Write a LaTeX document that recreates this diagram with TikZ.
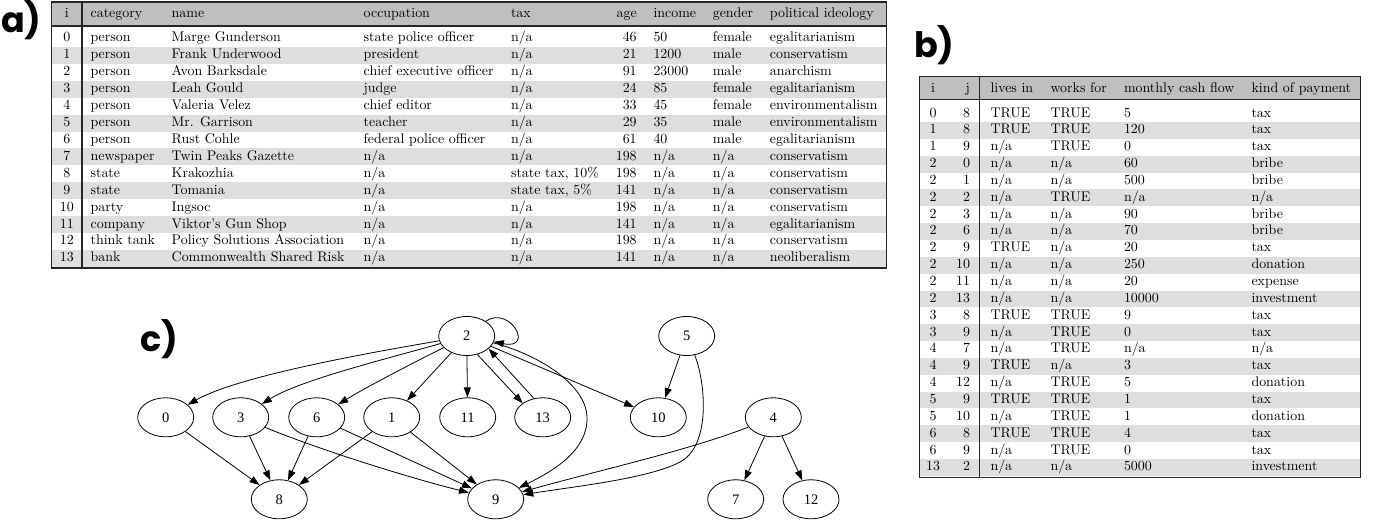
\documentclass[tikz,border=0pt]{standalone}
\usepackage{fontspec}
\usepackage{graphicx}
\usetikzlibrary{shapes.geometric,arrows.meta}
\newfontfamily\gfont{Liberation Serif}
\newfontfamily\labfont{Poppins}
\newcommand\na{n/a}
\newcommand\tc[1]{\scalebox{1.395}{\fontsize{10}{12}\selectfont\ignorespaces #1\unskip}}
\tikzset{
  cellL/.style={anchor=base west, inner sep=0pt, outer sep=0pt},
  cellC/.style={anchor=base, inner sep=0pt, outer sep=0pt},
  cellR/.style={anchor=base east, inner sep=0pt, outer sep=0pt},
  hdrfill/.style={fill=black!25},
  stripe/.style={fill=black!13},
  frame/.style={draw=black!85, line width=1.1pt},
  hrule/.style={draw=black!85, line width=1.6pt},
  vrule/.style={draw=black!85, line width=1.8pt},
  gnode/.style={ellipse, draw, line width=0.8pt, minimum width=56pt, minimum height=39pt, inner sep=0pt,
    font=\gfont\fontsize{14.5}{16}\selectfont},
  edge/.style={draw, line width=0.8pt, -{Triangle[length=10pt,width=7pt]}},
  lab/.style={anchor=base west, inner sep=0pt, font=\labfont\bfseries\fontsize{35}{35}\selectfont}
}
\begin{document}
\begin{tikzpicture}[x=1pt,y=-1pt]
\fill[white] (0,0) rectangle (1383,525);
\useasboundingbox (0,0) rectangle (1383,525);

% ---------- labels
\node[lab] (la) at (1,32) {a)};
\node[lab] (lb) at (914,57) {b)};
\node[lab] (lc) at (140,351.5) {c)};

% ---------- table a
\fill[hdrfill] (51.5,2) rectangle (886.5,25.5);
\foreach \k in {1,3,...,13}{
  \fill[stripe] (51.5,{38.4+16.93*\k-8.47}) rectangle (886.5,{38.4+16.93*\k+8.47});
}
\draw[hrule] (51.5,26) -- (886.5,26);
\draw[vrule] (82.2,2) -- (82.2,268);
\draw[frame] (51.5,2) rectangle (886.5,268);

\node[cellC] (ah1) at (66.85,17.5) {\tc{i}};
\node[cellL] (ah2) at (90.6,17.5) {\tc{category}};
\node[cellL] (ah3) at (171.7,17.5) {\tc{name}};
\node[cellL] (ah4) at (363.7,17.5) {\tc{occupation}};
\node[cellL] (ah5) at (511,17.5) {\tc{tax}};
\node[cellR] (ah6) at (636.7,17.5) {\tc{age}};
\node[cellL] (ah7) at (653.5,17.5) {\tc{income}};
\node[cellL] (ah8) at (712.8,17.5) {\tc{gender}};
\node[cellL] (ah9) at (769.9,17.5) {\tc{political ideology}};

\foreach \rI/\rC/\rN/\rO/\rT/\rA/\rM/\rG/\rP [count=\k from 0] in {
 0/person/Marge Gunderson/state police officer/\na/46/50/female/egalitarianism,
 1/person/Frank Underwood/president/\na/21/1200/male/conservatism,
 2/person/Avon Barksdale/chief executive officer/\na/91/23000/male/anarchism,
 3/person/Leah Gould/judge/\na/24/85/female/egalitarianism,
 4/person/Valeria Velez/chief editor/\na/33/45/female/environmentalism,
 5/person/Mr. Garrison/teacher/\na/29/35/male/environmentalism,
 6/person/Rust Cohle/federal police officer/\na/61/40/male/egalitarianism,
 7/newspaper/Twin Peaks Gazette/\na/\na/198/\na/\na/conservatism,
 8/state/Krakozhia/\na/{state tax, 10\%}/198/\na/\na/conservatism,
 9/state/Tomania/\na/{state tax, 5\%}/141/\na/\na/conservatism,
 10/party/Ingsoc/\na/\na/198/\na/\na/conservatism,
 11/company/Viktor’s Gun Shop/\na/\na/141/\na/\na/egalitarianism,
 12/think tank/Policy Solutions Association/\na/\na/198/\na/\na/conservatism,
 13/bank/Commonwealth Shared Risk/\na/\na/141/\na/\na/neoliberalism}{
  \pgfmathsetmacro\yb{41.8+16.93*\k}
  \node[cellC] (a\k c1) at (66.85,\yb) {\tc{\rI}};
  \node[cellL] (a\k c2) at (90.6,\yb) {\tc{\rC}};
  \node[cellL] (a\k c3) at (171.7,\yb) {\tc{\rN}};
  \node[cellL] (a\k c4) at (363.7,\yb) {\tc{\rO}};
  \node[cellL] (a\k c5) at (511,\yb) {\tc{\rT}};
  \node[cellR] (a\k c6) at (636.7,\yb) {\tc{\rA}};
  \node[cellL] (a\k c7) at (653.5,\yb) {\tc{\rM}};
  \node[cellL] (a\k c8) at (712.8,\yb) {\tc{\rG}};
  \node[cellL] (a\k c9) at (769.9,\yb) {\tc{\rP}};
}

% ---------- table b
\fill[hdrfill] (919.5,76.7) rectangle (1360.5,99);
\foreach \k in {1,3,...,21}{
  \fill[stripe] (919.5,{113.6+16.85*\k-8.43}) rectangle (1360.5,{113.6+16.85*\k+8.43});
}
\draw[hrule] (919.5,99.5) -- (1360.5,99.5);
\draw[vrule] (979.5,76.7) -- (979.5,477.5);
\draw[frame] (919.5,76.7) rectangle (1360.5,477.5);

\node[cellC] (bh1) at (933,92) {\tc{i}};
\node[cellR] (bh2) at (970,92) {\tc{j}};
\node[cellL] (bh3) at (990.5,92) {\tc{lives in}};
\node[cellL] (bh4) at (1050.5,92) {\tc{works for}};
\node[cellL] (bh5) at (1124,92) {\tc{monthly cash flow}};
\node[cellL] (bh6) at (1251.5,92) {\tc{kind of payment}};

\foreach \rI/\rJ/\rL/\rW/\rF/\rK [count=\k from 0] in {
 0/8/TRUE/TRUE/5/tax,
 1/8/TRUE/TRUE/120/tax,
 1/9/\na/TRUE/0/tax,
 2/0/\na/\na/60/bribe,
 2/1/\na/\na/500/bribe,
 2/2/\na/TRUE/\na/\na,
 2/3/\na/\na/90/bribe,
 2/6/\na/\na/70/bribe,
 2/9/TRUE/\na/20/tax,
 2/10/\na/\na/250/donation,
 2/11/\na/\na/20/expense,
 2/13/\na/\na/10000/investment,
 3/8/TRUE/TRUE/9/tax,
 3/9/\na/TRUE/0/tax,
 4/7/\na/TRUE/\na/\na,
 4/9/TRUE/\na/3/tax,
 4/12/\na/TRUE/5/donation,
 5/9/TRUE/TRUE/1/tax,
 5/10/\na/TRUE/1/donation,
 6/8/TRUE/TRUE/4/tax,
 6/9/\na/TRUE/0/tax,
 13/2/\na/\na/5000/investment}{
  \pgfmathsetmacro\yb{117+16.85*\k}
  \node[cellC] (b\k c1) at (933,\yb) {\tc{\rI}};
  \node[cellR] (b\k c2) at (970,\yb) {\tc{\rJ}};
  \node[cellL] (b\k c3) at (990.5,\yb) {\tc{\rL}};
  \node[cellL] (b\k c4) at (1050.5,\yb) {\tc{\rW}};
  \node[cellL] (b\k c5) at (1124,\yb) {\tc{\rF}};
  \node[cellL] (b\k c6) at (1251.5,\yb) {\tc{\rK}};
}

% ---------- graph c
\node[gnode] (n2) at (466.7,336) {2};
\node[gnode] (n5) at (686.7,336) {5};
\node[gnode] (n0) at (165.7,417.3) {0};
\node[gnode] (n3) at (240.7,417.3) {3};
\node[gnode] (n6) at (316.7,417.3) {6};
\node[gnode] (n1) at (391.7,417.3) {1};
\node[gnode] (n11) at (467.7,417.3) {11};
\node[gnode] (n13) at (542.7,417.3) {13};
\node[gnode] (n10) at (658.3,417.3) {10};
\node[gnode] (n4) at (773.3,417.3) {4};
\node[gnode] (n8) at (279.3,499.3) {8};
\node[gnode] (n9) at (495.7,499.3) {9};
\node[gnode] (n7) at (735.7,499.3) {7};
\node[gnode] (n12) at (811,499.3) {12};

\draw[edge] (n2) .. controls (380,351) and (240,375) .. (n0);
\draw[edge] (n2) .. controls (390,358) and (300,380) .. (n3);
\draw[edge] (n2) .. controls (415,362) and (370,385) .. (n6);
\draw[edge] (n2) -- (n1);
\draw[edge] (n2) -- (n11);
\draw[edge] (n2.-60) -- (n13.145);
\draw[edge] (n13.115) -- (n2.-30);
\draw[edge] (n2.38) .. controls (510,305) and (535,350) .. (n2.-12);
\draw[edge] (n2) .. controls (540,355) and (586,385) .. (587,417) .. controls (588,450) and (555,470) .. (n9);
\draw[edge] (n2) -- (n10);
\draw[edge] (n5) -- (n10);
\draw[edge] (n5) .. controls (705,380) and (712,445) .. (680,462) .. controls (648,479) and (570,487) .. (n9);
\draw[edge] (n4) .. controls (690,450) and (600,470) .. (n9);
\draw[edge] (n4) -- (n7);
\draw[edge] (n4) -- (n12);
\draw[edge] (n0) -- (n8);
\draw[edge] (n3) -- (n8);
\draw[edge] (n3) .. controls (320,450) and (410,478) .. (n9);
\draw[edge] (n6) -- (n8);
\draw[edge] (n6) -- (n9);
\draw[edge] (n1) -- (n8);
\draw[edge] (n1) -- (n9);
\end{tikzpicture}
\end{document}
